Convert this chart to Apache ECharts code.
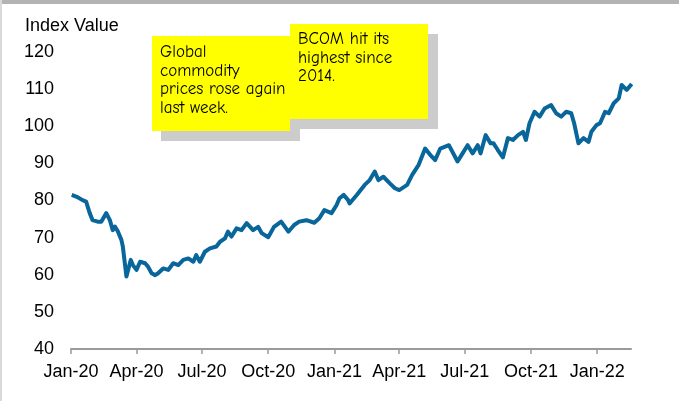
<!DOCTYPE html>
<html>
<head>
<meta charset="utf-8">
<script src="https://cdn.jsdelivr.net/npm/echarts@6/dist/echarts.min.js"></script>
<style>
  html, body { margin: 0; padding: 0; background: #fff; }
  #chart { width: 679px; height: 401px; }
</style>
</head>
<body>
<div id="chart"></div>
<script>
// BCOM index (roughly weekly)
var dates = [
  '2020-01-02','2020-01-09','2020-01-17','2020-01-22','2020-01-27','2020-01-31','2020-02-07','2020-02-12',
  '2020-02-19','2020-02-24','2020-02-28','2020-03-02','2020-03-06','2020-03-11','2020-03-13','2020-03-18',
  '2020-03-24','2020-03-27','2020-04-01','2020-04-06','2020-04-13','2020-04-17','2020-04-22','2020-04-27',
  '2020-05-01','2020-05-08','2020-05-15','2020-05-22','2020-05-29','2020-06-05','2020-06-12','2020-06-19',
  '2020-06-23','2020-06-28','2020-07-05','2020-07-12','2020-07-21','2020-07-26','2020-08-02','2020-08-06',
  '2020-08-11','2020-08-18','2020-08-25','2020-09-01','2020-09-10','2020-09-17','2020-09-22','2020-10-01',
  '2020-10-09','2020-10-19','2020-10-29','2020-11-06','2020-11-13','2020-11-23','2020-12-04','2020-12-11',
  '2020-12-18','2020-12-28','2021-01-04','2021-01-08','2021-01-14','2021-01-20','2021-01-22','2021-02-01',
  '2021-02-12','2021-02-19','2021-02-26','2021-03-03','2021-03-10','2021-03-19','2021-03-26','2021-04-01',
  '2021-04-12','2021-04-19','2021-04-28','2021-05-07','2021-05-14','2021-05-21','2021-05-28','2021-06-09',
  '2021-06-21','2021-06-28','2021-07-05','2021-07-12','2021-07-19','2021-07-23','2021-07-30','2021-08-06',
  '2021-08-10','2021-08-16','2021-08-23','2021-08-30','2021-09-06','2021-09-13','2021-09-20','2021-09-24',
  '2021-09-29','2021-10-06','2021-10-13','2021-10-20','2021-10-29','2021-11-05','2021-11-12','2021-11-19',
  '2021-11-26','2021-11-30','2021-12-06','2021-12-13','2021-12-20','2021-12-24','2021-12-31','2022-01-05',
  '2022-01-12','2022-01-17','2022-01-24','2022-01-31','2022-02-04','2022-02-11','2022-02-18'
];
var bcom = [
  81.5, 81.0, 80.1, 79.7, 76.6, 74.7, 74.3, 74.3,
  76.6, 74.7, 72.0, 73.0, 71.7, 69.4, 67.6, 59.5,
  64.0, 62.6, 61.3, 63.5, 63.1, 62.2, 60.4, 59.9,
  60.4, 61.7, 61.3, 63.1, 62.6, 64.0, 64.4, 63.5,
  65.3, 63.5, 66.2, 67.1, 67.6, 68.9, 69.8, 71.6,
  70.3, 72.5, 72.0, 73.9, 72.0, 72.9, 71.2, 70.1,
  72.9, 74.3, 71.6, 73.4, 74.3, 74.7, 74.0, 75.2,
  77.4, 76.6, 78.8, 80.6, 81.5, 80.1, 79.2, 81.5,
  84.2, 85.5, 87.8, 85.5, 86.4, 84.6, 83.3, 82.8,
  84.2, 86.9, 89.6, 94.0, 92.3, 90.9, 94.0, 94.9,
  90.5, 92.7, 94.9, 92.7, 94.9, 92.7, 97.6, 95.4,
  95.4, 93.6, 91.6, 96.8, 96.3, 97.6, 98.5, 96.3,
  100.8, 103.9, 102.6, 104.8, 105.7, 103.5, 102.6, 103.9,
  103.5, 100.8, 95.4, 96.8, 95.8, 98.5, 100.3, 100.8,
  103.9, 103.5, 106.2, 107.5, 111.1, 109.8, 111.4
];
var tickDates = ['2020-01-01','2020-04-01','2020-07-01','2020-10-01','2021-01-01',
                 '2021-04-01','2021-07-01','2021-10-01','2022-01-01'];
var tickLabels = ['Jan-20','Apr-20','Jul-20','Oct-20','Jan-21','Apr-21','Jul-21','Oct-21','Jan-22'];

var box1Lines = ['Global', 'commodity', 'prices rose again', 'last week.'];
var box2Lines = ['BCOM hit its', 'highest since', '2014.'];

var ts = function(s){ return +new Date(s + 'T00:00:00Z'); };
var tickTs = tickDates.map(ts);
var labelOf = {};
tickTs.forEach(function(t, i){ labelOf[t] = tickLabels[i]; });

var seriesData = dates.map(function(d, i){ return [ts(d), bcom[i]]; });

var font = 'Liberation Sans, Arial, sans-serif';
var noteFont = '"Comic Sans MS", "Comic Neue", cursive, "DejaVu Sans", sans-serif';

var myChart = echarts.init(document.getElementById('chart'));
var option = {
    backgroundColor: '#fff',
    animation: false,
    grid: { left: 71, right: 48, top: 52, bottom: 52 },
    xAxis: {
        type: 'value',
        min: ts('2020-01-01'),
        max: ts('2022-02-17'),
        splitLine: { show: false },
        axisLine: { show: true, lineStyle: { color: '#9a9a9a', width: 2 } },
        axisTick: {
            show: true, inside: false, length: 5,
            customValues: tickTs,
            lineStyle: { color: '#9a9a9a', width: 1.5 }
        },
        axisLabel: {
            customValues: tickTs,
            formatter: function(v){ return labelOf[v] || ''; },
            color: '#000', fontFamily: font, fontSize: 18, margin: 14
        }
    },
    yAxis: {
        type: 'value',
        min: 40, max: 120, interval: 10,
        splitLine: { show: false },
        axisLine: { show: false },
        axisTick: { show: false },
        axisLabel: { color: '#000', fontFamily: font, fontSize: 18, margin: 17 }
    },
    series: [{
        type: 'line',
        data: seriesData,
        symbol: 'none',
        smooth: false,
        lineStyle: { color: '#08669a', width: 4, join: 'round' }
    }],
    graphic: [
        // left and top frame
        { type: 'rect', shape: { x: 0, y: 0, width: 679, height: 4 }, style: { fill: '#b3b3b3' } },
        { type: 'rect', shape: { x: 0, y: 0, width: 2, height: 401 }, style: { fill: '#d9d9d9' } },
        { type: 'text', left: 25, top: 17,
          style: { text: 'Index Value', fill: '#000', font: '18px ' + font } },
        // note 1
        { type: 'rect', shape: { x: 161, y: 46, width: 139, height: 95 }, style: { fill: '#cccccc' } },
        { type: 'rect', shape: { x: 152, y: 36, width: 138, height: 95 }, style: { fill: '#ffff00' } },
        { type: 'text', left: 160, top: 43,
          style: { text: box1Lines.join('\n'), fill: '#000', font: '17px ' + noteFont, lineHeight: 18.5 } },
        // note 2
        { type: 'rect', shape: { x: 300, y: 34, width: 138, height: 95 }, style: { fill: '#cccccc' } },
        { type: 'rect', shape: { x: 290, y: 24, width: 138, height: 95 }, style: { fill: '#ffff00' } },
        { type: 'text', left: 298, top: 30,
          style: { text: box2Lines.join('\n'), fill: '#000', font: '17px ' + noteFont, lineHeight: 18.5 } }
    ]
};
myChart.setOption(option);
</script>
</body>
</html>
